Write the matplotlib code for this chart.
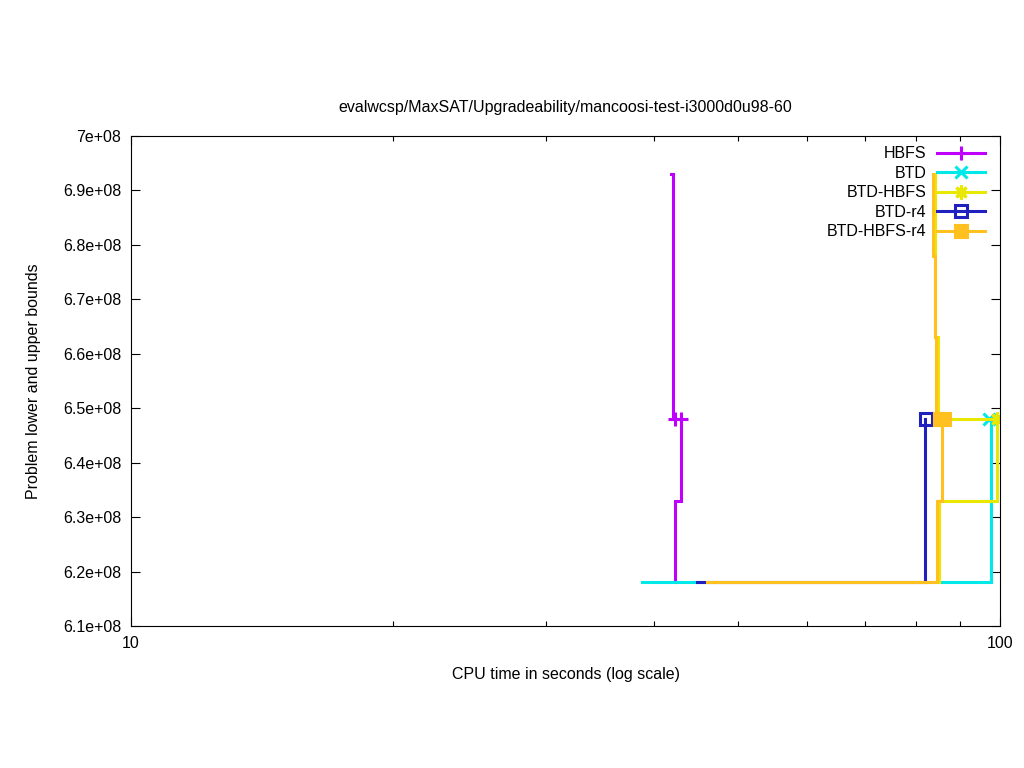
import numpy as np
import matplotlib
matplotlib.use('Agg')
import matplotlib.pyplot as plt
from matplotlib.lines import Line2D
from matplotlib.ticker import MultipleLocator, FuncFormatter, LogLocator, NullFormatter

plt.rcParams['font.family'] = ['Liberation Sans', 'DejaVu Sans']

# Bound trajectories (CPU time in s, bound value), drawn as steps
hbfs_t = [41.82, 42.04, 42.95, 42.27]
hbfs_v = [6.93e8, 6.48e8, 6.33e8, 6.18e8]

btd_t = [38.73, 97.64]
btd_v = [6.18e8, 6.48e8]

btd_hbfs_t = [83.74, 84.07, 84.85, 99.21, 85.07]
btd_hbfs_v = [6.93e8, 6.63e8, 6.48e8, 6.33e8, 6.18e8]

btd_r4_t = [44.81, 81.99]
btd_r4_v = [6.18e8, 6.48e8]

btd_hbfs_r4_t = [83.63, 83.74, 84.07, 84.30, 85.75, 84.52, 46.01]
btd_hbfs_r4_v = [6.93e8, 6.78e8, 6.63e8, 6.48e8, 6.33e8, 6.18e8, 6.18e8]

# Final (optimum) points
hbfs_mark_t = [42.32, 42.98]
btd_mark_t = [97.13]
btd_hbfs_mark_t = [99.08]
btd_r4_mark_t = [82.09]
btd_hbfs_r4_mark_t = [85.25, 86.25]
OPT = 6.48e8

series = [
    ('HBFS', hbfs_t, hbfs_v, hbfs_mark_t, '#c000ff', '+', 10, 'none'),
    ('BTD', btd_t, btd_v, btd_mark_t, '#00e8e8', 'x', 8, 'none'),
    ('BTD-HBFS', btd_hbfs_t, btd_hbfs_v, btd_hbfs_mark_t, '#e8e800', (8, 2, 0), 10, 'none'),
    ('BTD-r4', btd_r4_t, btd_r4_v, btd_r4_mark_t, '#2020c0', 's', 8, 'none'),
    ('BTD-HBFS-r4', btd_hbfs_r4_t, btd_hbfs_r4_v, btd_hbfs_r4_mark_t, '#ffc020', 's', 9, 'fill'),
]

FS = 11.5

fig = plt.figure(figsize=(10.24, 7.68), dpi=100)
ax = fig.add_axes([131 / 1024, 1 - 626 / 768, 869 / 1024, 490 / 768])

handles = []
for name, t, v, mt, col, mk, ms, fill in series:
    ax.plot(t, v, drawstyle='steps-post', color=col, lw=2.2, solid_joinstyle='miter')
    fc = col if fill == 'fill' else 'none'
    ax.plot(mt, [OPT] * len(mt), linestyle='none', marker=mk, ms=ms, mew=2.2,
            mec=col, mfc=fc)
    handles.append(Line2D([], [], color=col, lw=2.2, marker=mk, ms=ms, mew=2.2,
                          mec=col, mfc=fc))

ax.set_xscale('log')
ax.set_xlim(10, 100)
ax.set_ylim(6.1e8, 7.0e8)
ax.yaxis.set_major_locator(MultipleLocator(1e7))
ax.yaxis.set_major_formatter(FuncFormatter(lambda v, p: f'{v:g}'))
ax.xaxis.set_major_formatter(FuncFormatter(lambda v, p: f'{v:g}'))
ax.xaxis.set_minor_locator(LogLocator(base=10, subs=np.arange(2, 10)))
ax.xaxis.set_minor_formatter(NullFormatter())

ax.tick_params(which='both', direction='in', top=True, right=True, width=0.8,
               labelsize=FS)
ax.tick_params(which='major', length=6.5, pad=7)
ax.tick_params(which='minor', length=3.5)
for s in ax.spines.values():
    s.set_linewidth(0.8)

ax.set_title('evalwcsp/MaxSAT/Upgradeability/mancoosi-test-i3000d0u98-60',
             fontsize=FS, pad=17)
ax.set_xlabel('CPU time in seconds (log scale)', fontsize=FS, labelpad=12)
ax.set_ylabel('Problem lower and upper bounds', fontsize=FS, labelpad=16)

ax.legend(handles, [s[0] for s in series], loc='upper right', frameon=False,
          markerfirst=False, numpoints=1, handlelength=3.0, fontsize=FS,
          labelspacing=0.28, handletextpad=0.7, borderpad=0,
          borderaxespad=0, bbox_to_anchor=(0.983, 0.979))

fig.savefig('out.png', dpi=100)
